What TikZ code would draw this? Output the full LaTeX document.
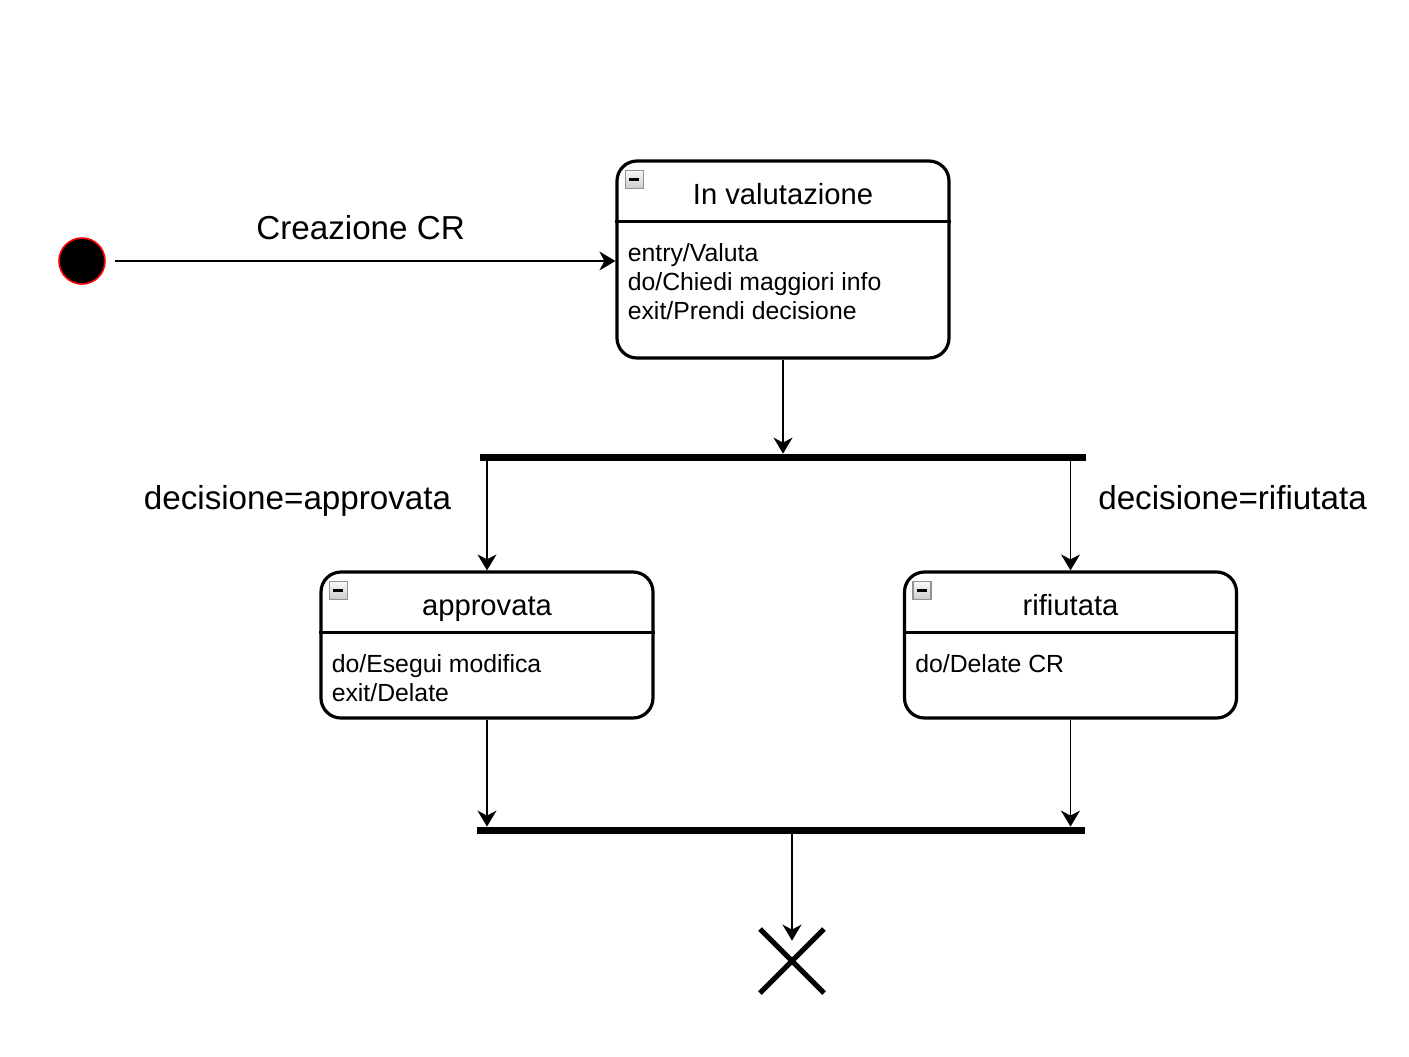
\documentclass[tikz,border=0pt]{standalone}
\usepackage{fontspec}
\setmainfont{Liberation Sans}
\usetikzlibrary{positioning, arrows.meta}

\begin{document}
\begin{tikzpicture}[
  x=0.5pt, y=-0.5pt,
  state/.style={draw, line width=1.6pt, rounded corners=10pt,
                minimum width=166pt, inner sep=0pt},
  statename/.style={anchor=base, inner sep=0pt, font=\fontsize{14.6}{18}\selectfont},
  actions/.style={anchor=base west, align=left, inner sep=0pt,
                  font=\fontsize{12.4}{14.5}\selectfont},
  icon/.style={draw=gray!85, top color=gray!5, bottom color=gray!40,
               minimum size=9pt, inner sep=0pt, line width=0.6pt},
  bar/.style={fill=black, inner sep=0pt, minimum height=3.5pt},
  lbl/.style={font=\fontsize{16.6}{20}\selectfont, inner sep=0pt},
  arrow/.style={-{Stealth[length=8pt, width=9.5pt, inset=2.5pt]}, line width=0.8pt}
]
  \useasboundingbox (0,0) rectangle (1409,1056);

  \node[circle, fill=black, draw=red, line width=0.8pt, minimum size=23pt,
        inner sep=0pt] (start) at (82,261) {};
  \node[state, minimum height=98.5pt] (val) at (783,259.5) {};
  \node[bar, minimum width=303pt] (fork) at (783,457.5) {};
  \node[state, minimum height=73pt] (apr) at (487,645) {};
  \node[state, minimum height=73pt] (rif) at (1070.5,645) {};
  \node[bar, minimum width=304pt] (join) at (781,830.5) {};
  \node[circle, minimum size=20pt, inner sep=0pt] (fin) at (792,961) {};

  \foreach \s in {val,apr,rif} {
    \draw[line width=1.6pt] ([yshift=-31pt]\s.north west) -- ([yshift=-31pt]\s.north east);
    \node[icon] (icon-\s) at ([shift={(9.5pt,-10pt)}]\s.north west) {\rule{5pt}{1.2pt}};
  }

  \node[statename] (val-name) at ([yshift=-22.6pt]val.north) {In valutazione};
  \node[actions] (val-body) at ([shift={(6pt,-80pt)}]val.north west)
    {entry/Valuta\\do/Chiedi maggiori info\\exit/Prendi decisione};
  \node[statename] (apr-name) at ([yshift=-22.6pt]apr.north) {approvata};
  \node[actions] (apr-body) at ([shift={(6pt,-65.4pt)}]apr.north west)
    {do/Esegui modifica\\exit/Delate};
  \node[statename] (rif-name) at ([yshift=-22.6pt]rif.north) {rifiutata};
  \node[actions] (rif-body) at ([shift={(6pt,-51pt)}]rif.north west) {do/Delate CR};

  \draw[line width=2.5pt] ([shift={(-16pt,16pt)}]fin.center) -- ([shift={(16pt,-16pt)}]fin.center)
                          ([shift={(16pt,16pt)}]fin.center) -- ([shift={(-16pt,-16pt)}]fin.center);

  \draw[arrow, shorten <=4.5pt] (start) -- (start -| val.west)
    node[lbl, midway, anchor=base, yshift=11pt] {Creazione CR};
  \draw[arrow] (val) -- (val |- fork.north);
  \draw[arrow] (fork.south -| apr) -- (apr)
    node[lbl, pos=0.44, anchor=base east, xshift=-17.5pt] {decisione=approvata};
  \draw[arrow] (fork.south -| rif) -- (rif)
    node[lbl, pos=0.44, anchor=base west, xshift=13.5pt] {decisione=rifiutata};
  \draw[arrow] (apr) -- (apr |- join.north);
  \draw[arrow] (rif) -- (rif |- join.north);
  \draw[arrow] (join.south -| fin) -- (fin);
\end{tikzpicture}
\end{document}
